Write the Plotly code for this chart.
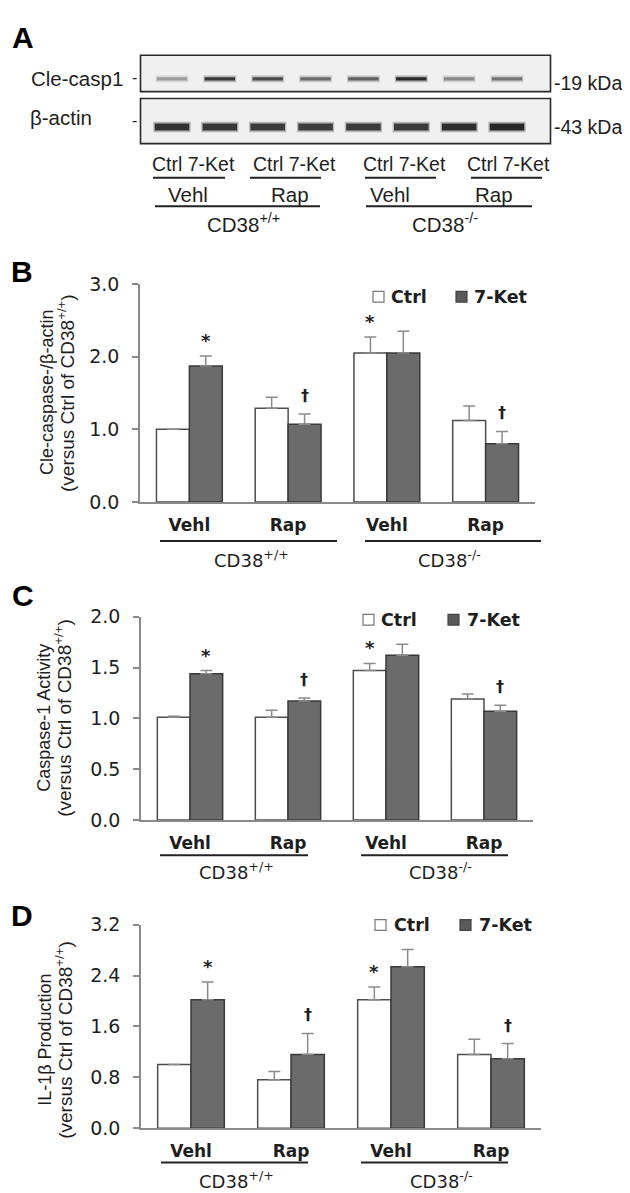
import plotly.graph_objects as go

W, H = 630, 1193

# ---------------- data ----------------
treatments = ["Vehl", "Rap", "Vehl", "Rap"]
genotypes = ["CD38<sup>+/+</sup>", "CD38<sup>-/-</sup>"]
series_names = ["Ctrl", "7-Ket"]

# Panel A: western blot (relative band intensity, 0..1)
lane_labels = ["Ctrl", "7-Ket", "Ctrl", "7-Ket", "Ctrl", "7-Ket", "Ctrl", "7-Ket"]
casp1_intensity = [0.38, 0.88, 0.78, 0.62, 0.68, 0.95, 0.48, 0.58]
actin_intensity = [0.90, 0.88, 0.86, 0.85, 0.86, 0.86, 0.92, 0.95]

# Panel B: Cle-caspase-1 / beta-actin
b_ctrl = [1.00, 1.29, 2.05, 1.12]
b_ctrl_err = [0.00, 0.15, 0.22, 0.20]
b_ket = [1.87, 1.07, 2.05, 0.80]
b_ket_err = [0.14, 0.14, 0.30, 0.17]

# Panel C: Caspase-1 activity
c_ctrl = [1.01, 1.01, 1.47, 1.19]
c_ctrl_err = [0.01, 0.07, 0.07, 0.05]
c_ket = [1.44, 1.17, 1.62, 1.07]
c_ket_err = [0.03, 0.03, 0.11, 0.06]

# Panel D: IL-1beta production
d_ctrl = [1.00, 0.76, 2.02, 1.16]
d_ctrl_err = [0.00, 0.13, 0.20, 0.24]
d_ket = [2.02, 1.16, 2.54, 1.09]
d_ket_err = [0.28, 0.33, 0.27, 0.24]

ctrl_sig = ["", "", "*", ""]
ket_sig = ["*", "\u2020", "", "\u2020"]

# ---------------- helpers ----------------
def px(x):
    return x / W

def py(y):
    return 1 - y / H

AX_COL = "#8a8a8a"
TXT = "#1e1e1e"
SANS = "DejaVu Sans"
ARIAL = "Liberation Sans"

fig = go.Figure()
shapes = []
annotations = []


def ann(text, x, y, size, family=SANS, weight="normal", xanchor="center",
        yanchor="middle", angle=0, color=TXT):
    annotations.append(dict(
        text=text, x=px(x), y=py(y), xref="paper", yref="paper",
        xanchor=xanchor, yanchor=yanchor, showarrow=False, textangle=angle,
        font=dict(family=family, size=size, color=color, weight=weight)))


def hline(x0, x1, y, width=2, color="#222"):
    shapes.append(dict(type="line", xref="paper", yref="paper",
                       x0=px(x0), x1=px(x1), y0=py(y), y1=py(y),
                       line=dict(color=color, width=width)))


cats = list(range(len(treatments)))


def panel(k, xdom, ydom, top, dtick, ctrl, ctrl_err, ket, ket_err,
          letter, letter_xy, title1, title2, title_x, title_y,
          legend_box_x, legend_y, group_line_y, group_lines, geno_y, geno_x):
    xa = "x" if k == 1 else f"x{k}"
    ya = "y" if k == 1 else f"y{k}"
    for name, vals, errs, fill, edge in [
        ("Ctrl", ctrl, ctrl_err, "white", "#4d4d4d"),
        ("7-Ket", ket, ket_err, "#6b6b6b", "#3a3a3a"),
    ]:
        fig.add_trace(go.Bar(
            x=cats, y=vals, name=name, xaxis=xa, yaxis=ya, showlegend=False,
            marker=dict(color=fill, line=dict(color=edge, width=1.5)),
            error_y=dict(type="data", symmetric=False, array=errs,
                         arrayminus=[0] * len(errs), color=AX_COL,
                         thickness=1.5, width=6),
            offsetgroup=name,
        ))
    # significance marks
    for i in cats:
        for off, vals, errs, sig in [(-1 / 6, ctrl, ctrl_err, ctrl_sig),
                                     (1 / 6, ket, ket_err, ket_sig)]:
            if sig[i]:
                star = sig[i] == "*"
                annotations.append(dict(
                    text=sig[i], x=i + off, y=vals[i] + errs[i],
                    xref=xa, yref=ya, xanchor="center", yanchor="bottom",
                    yshift=3 if star else 7, showarrow=False,
                    font=dict(family=SANS, size=18 if star else 16,
                              color=TXT, weight="bold")))
    axis_x = dict(domain=[px(xdom[0]), px(xdom[1])], range=[-0.5, 3.5],
                  showline=True, linecolor=AX_COL, linewidth=1.5,
                  ticks="", tickvals=cats, ticktext=treatments,
                  tickfont=dict(family=SANS, size=17, color=TXT, weight="bold"),
                  ticklabelstandoff=7,
                  showgrid=False, zeroline=False, anchor=ya, fixedrange=True)
    ticks = []
    v = 0.0
    while v <= top + 1e-9:
        ticks.append(round(v, 2))
        v += dtick
    axis_y = dict(domain=[py(ydom[1]), py(ydom[0])], range=[0, top],
                  showline=True, linecolor=AX_COL, linewidth=1.5,
                  ticks="outside", ticklen=6, tickwidth=1.5, tickcolor=AX_COL,
                  tickvals=ticks, tickformat=".1f", ticklabelstandoff=9,
                  tickfont=dict(family=SANS, size=19, color=TXT),
                  showgrid=False, zeroline=False, anchor=xa, fixedrange=True)
    fig.update_layout(**{("xaxis" if k == 1 else f"xaxis{k}"): axis_x,
                         ("yaxis" if k == 1 else f"yaxis{k}"): axis_y})
    # panel letter
    ann(letter, letter_xy[0], letter_xy[1], 30, family=ARIAL, weight="bold",
        color="#000")
    # y titles
    ann(title1, title_x[0], title_y, 18, family=ARIAL, angle=-90)
    ann(title2, title_x[1], title_y, 19, family=ARIAL, angle=-90)
    # legend
    for (bx, tx), name, fill, edge in zip(legend_box_x, series_names,
                                          ["white", "#5a5a5a"],
                                          ["#777", "#444"]):
        shapes.append(dict(type="rect", xref="paper", yref="paper",
                           x0=px(bx), x1=px(bx + 11), y0=py(legend_y + 5.5),
                           y1=py(legend_y - 5.5), fillcolor=fill,
                           line=dict(color=edge, width=1.2)))
        ann(name, tx, legend_y, 17.5, weight="bold", xanchor="left")
    # genotype grouping lines + labels
    for (x0, x1), g, gx in zip(group_lines, genotypes, geno_x):
        hline(x0, x1, group_line_y, width=2)
        ann(g, gx, geno_y, 18)


# Panel B
panel(1, (132, 527), (270, 492), 3.0, 1.0, b_ctrl, b_ctrl_err, b_ket, b_ket_err,
      "B", (14, 257), "Cle-caspase-/\u03b2-actin",
      "(versus Ctrl of CD38<sup>+/+</sup>)", (39, 58), 381,
      [(365, 381), (448, 464)], 283, 531.7, [(152, 329), (357, 533)], 550,
      (243, 441))
# Panel C
panel(2, (133, 525), (609, 816), 2.0, 0.5, c_ctrl, c_ctrl_err, c_ket, c_ket_err,
      "C", (15, 587), "Caspase-1 Activity",
      "(versus Ctrl of CD38<sup>+/+</sup>)", (36, 55), 712,
      [(355, 371), (440, 457)], 612, 852, [(152, 300), (353, 500)], 868,
      (228, 432))
# Panel D
panel(3, (133, 533), (922.7, 1130), 3.2, 0.8, d_ctrl, d_ctrl_err, d_ket, d_ket_err,
      "D", (14, 913), "IL-1\u03b2 Production",
      "(versus Ctrl of CD38<sup>+/+</sup>)", (37, 56), 1040,
      [(367, 384), (452, 469)], 923, 1165, [(153, 300), (353, 500)], 1183,
      (228, 433))

# ---------------- Panel A: blot ----------------
lanes = list(range(len(lane_labels)))
lane0_px, lane_step = 164.0, 47.86
box_l, box_r = 132.5, 542.5
xa4_range = [(box_l - lane0_px) / lane_step, (box_r - lane0_px) / lane_step]
unit = 49.0
ya4_range = [-(127 - 110) / unit, 1 + (61 - 37) / unit]


def gray(intensity):
    g = int(round(235 - 205 * intensity))
    return f"rgb({g},{g},{g})"


# blot membranes
for y0, y1 in [(37, 74), (81, 127)]:
    shapes.append(dict(type="rect", xref="paper", yref="paper",
                       x0=px(box_l), x1=px(box_r), y0=py(y1), y1=py(y0),
                       fillcolor="#f0f0f0", line=dict(color="#2a2a2a", width=1.6),
                       layer="below"))

for row_val, intens, core_w, half in [(1, casp1_intensity, 3.2, 0.36),
                                      (0, actin_intensity, 7.0, 0.41)]:
    for i, it in zip(lanes, intens):
        for w, op, hf in [(core_w + 3.5, 0.3, 0.95), (core_w, 1.0, 0.88)]:
            fig.add_trace(go.Scatter(
                x=[i - half * hf, i + half * hf], y=[row_val, row_val],
                mode="lines", line=dict(color=gray(it), width=w), opacity=op,
                xaxis="x4", yaxis="y4", showlegend=False, hoverinfo="skip"))

fig.update_layout(
    xaxis4=dict(domain=[px(box_l), px(box_r)], range=xa4_range, visible=False,
                anchor="y4", fixedrange=True),
    yaxis4=dict(domain=[py(127), py(37)], range=ya4_range, visible=False,
                anchor="x4", fixedrange=True),
)

ann("A", 15, 19, 30, family=ARIAL, weight="bold", color="#000")
ann("Cle-casp1", 117, 61, 20.5, family=ARIAL, xanchor="right")
ann("\u03b2-actin", 20, 100, 20.5, family=ARIAL, xanchor="left")
ann("-", 126.5, 60, 16, family=ARIAL)
ann("-", 126.5, 103, 16, family=ARIAL)
ann("-19 kDa", 544, 65, 19.5, family=ARIAL, xanchor="left")
ann("-43 kDa", 544, 110, 19.5, family=ARIAL, xanchor="left")

pair_centers = [185.5, 286, 396.5, 501]
pair_lines = [(145, 217), (242, 313), (357, 428), (463, 534)]
for c, (x0, x1), k in zip(pair_centers, pair_lines, range(4)):
    ann(f"{lane_labels[2 * k]} {lane_labels[2 * k + 1]}", c, 148, 19.5, family=ARIAL)
    hline(x0, x1, 161.7, width=2)
for c, t in zip([180, 282, 382, 486], treatments):
    ann(t, c, 179, 20.5, family=ARIAL)
for (x0, x1), g, c in zip([(147, 312), (358, 524)], genotypes, [235, 437]):
    hline(x0, x1, 190.7, width=2)
    ann(g, c, 208, 20.5, family=ARIAL)

fig.update_layout(
    width=W, height=H, margin=dict(l=0, r=0, t=0, b=0),
    paper_bgcolor="white", plot_bgcolor="rgba(0,0,0,0)",
    barmode="group", bargap=1 / 3, bargroupgap=0,
    showlegend=False, shapes=shapes, annotations=annotations,
)

fig.write_html("out.html")
